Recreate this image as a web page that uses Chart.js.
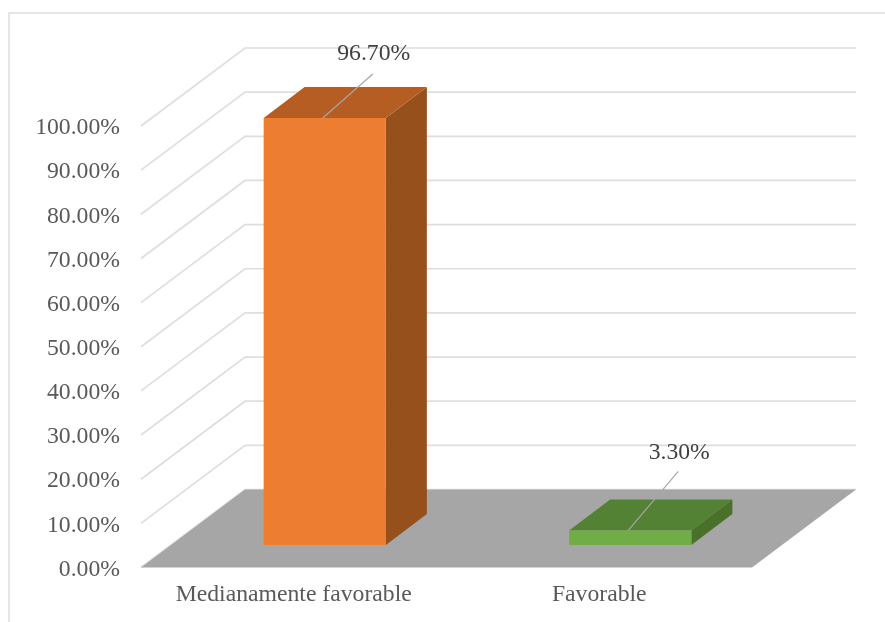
<!DOCTYPE html>
<html>
<head>
<meta charset="utf-8">
<style>
html,body{margin:0;padding:0;background:#fff;overflow:hidden}
#wrap{position:absolute;left:0;top:0;width:885px;height:622px}
</style>
<script src="https://cdn.jsdelivr.net/npm/chart.js@4"></script>
</head>
<body>
<div id="wrap"><canvas id="c" width="885" height="622"></canvas></div>
<script>
const categories = ["Medianamente favorable", "Favorable"];
const seriesValues = [96.7, 3.3];
const frontColors = ["#ED7D31", "#70AD47"];
const topColors = ["#B55D22", "#548235"];
const sideColors = ["#96501C", "#4A7129"];
const leaderRise = [44, 59];
const labelRise = [64, 78];

const WALL = {dx: 104, dy: -78};     // full depth of the 3D box
const BAR_OFF = {dx: 31, dy: -22.5}; // bar front face inside the box
const BAR_DEPTH = {dx: 41, dy: -31}; // bar depth
const SERIF = '"Liberation Serif", serif';
const FONT_SIZE = 23.7;

function poly(ctx, pts, fill) {
  ctx.beginPath();
  pts.forEach((p, i) => i ? ctx.lineTo(p[0], p[1]) : ctx.moveTo(p[0], p[1]));
  ctx.closePath();
  ctx.fillStyle = fill;
  ctx.fill();
}

const box3d = {
  id: 'box3d',
  beforeDatasetsDraw(chart) {
    const {ctx, scales: {x, y}, chartArea: a} = chart;
    ctx.save();
    // outer frame
    ctx.strokeStyle = '#DEDEDE';
    ctx.lineWidth = 1.5;
    ctx.beginPath();
    ctx.moveTo(9, chart.height);
    ctx.lineTo(9, 13);
    ctx.lineTo(chart.width, 13);
    ctx.stroke();
    // walls
    ctx.strokeStyle = '#DEDEDE';
    ctx.lineWidth = 1.7;
    y.ticks.forEach(t => {
      const py = y.getPixelForValue(t.value);
      ctx.beginPath();
      ctx.moveTo(a.left, py);
      ctx.lineTo(a.left + WALL.dx, py + WALL.dy);
      ctx.lineTo(a.right + WALL.dx, py + WALL.dy);
      ctx.stroke();
    });
    // floor
    const b = y.getPixelForValue(0);
    poly(ctx, [[a.left, b], [a.right, b], [a.right + WALL.dx, b + WALL.dy], [a.left + WALL.dx, b + WALL.dy]], '#A6A6A6');
    // bar side and top faces
    chart.getDatasetMeta(0).data.forEach((el, i) => {
      const l = el.x - el.width / 2 + BAR_OFF.dx, r = el.x + el.width / 2 + BAR_OFF.dx;
      const t = el.y + BAR_OFF.dy, bt = el.base + BAR_OFF.dy;
      poly(ctx, [[r, t], [r, bt], [r + BAR_DEPTH.dx, bt + BAR_DEPTH.dy], [r + BAR_DEPTH.dx, t + BAR_DEPTH.dy]], sideColors[i]);
      poly(ctx, [[l, t], [r, t], [r + BAR_DEPTH.dx, t + BAR_DEPTH.dy], [l + BAR_DEPTH.dx, t + BAR_DEPTH.dy]], topColors[i]);
    });
    ctx.restore();
  },
  beforeDatasetDraw(chart) {
    chart.ctx.save();
    chart.ctx.translate(BAR_OFF.dx, BAR_OFF.dy);
  },
  afterDatasetDraw(chart) {
    chart.ctx.restore();
  },
  afterDatasetsDraw(chart) {
    const {ctx} = chart;
    ctx.save();
    chart.getDatasetMeta(0).data.forEach((el, i) => {
      const px = el.x + BAR_OFF.dx - 2, py = el.y + BAR_OFF.dy;
      ctx.strokeStyle = '#A6A6A6';
      ctx.lineWidth = 1.2;
      ctx.beginPath();
      ctx.moveTo(px, py);
      ctx.lineTo(px + 50, py - leaderRise[i]);
      ctx.stroke();
      ctx.fillStyle = '#404040';
      ctx.font = FONT_SIZE + 'px ' + SERIF;
      ctx.textAlign = 'center';
      ctx.textBaseline = 'middle';
      ctx.fillText(seriesValues[i].toFixed(2) + '%', px + 51, py - labelRise[i]);
    });
    ctx.restore();
  }
};

new Chart(document.getElementById('c'), {
  type: 'bar',
  data: {
    labels: categories,
    datasets: [{
      data: seriesValues,
      backgroundColor: frontColors,
      borderWidth: 0,
      barPercentage: 0.4,
      categoryPercentage: 1
    }]
  },
  options: {
    responsive: false,
    animation: false,
    layout: {padding: {top: 126, right: 133, bottom: 0, left: 0}},
    plugins: {legend: {display: false}, tooltip: {enabled: false}},
    scales: {
      x: {
        grid: {display: false},
        border: {display: false},
        afterFit(s) { s.height = 54.5; },
        ticks: {
          color: '#595959',
          padding: 5,
          maxRotation: 0,
          autoSkip: false,
          font: {family: 'Liberation Serif', size: FONT_SIZE}
        }
      },
      y: {
        min: 0,
        max: 100,
        grid: {display: false},
        border: {display: false},
        afterFit(s) { s.width = 141; },
        ticks: {
          stepSize: 10,
          color: '#595959',
          padding: 13,
          labelOffset: 2,
          callback: v => v.toFixed(2) + '%',
          font: {family: 'Liberation Serif', size: FONT_SIZE}
        }
      }
    }
  },
  plugins: [box3d]
});
</script>
</body>
</html>
